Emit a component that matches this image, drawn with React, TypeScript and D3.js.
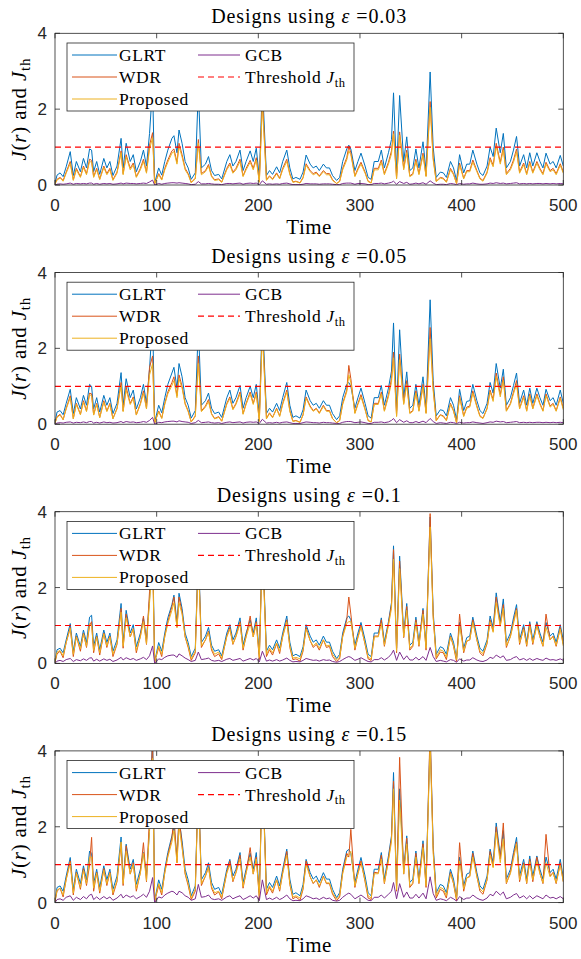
import React from "react";
import * as d3 from "d3";

// shared time samples (read at the local peaks / troughs of the traces)
const TIME = [
  0,2,5,8,11,15,18,21,25,28,
  31,34,36,38,41,44,48,51,54,57,
  61,65,67,70,74,77,80,84,87,90,
  93,96,98,102,105,108,111,115,117,120,
  122,125,128,131,134,138,141,144,148,151,
  154,157,161,164,169,172,175,178,182,185,
  188,192,195,198,201,204,208,211,214,218,
  221,224,228,231,234,237,241,244,247,251,
  254,257,260,264,267,270,273,277,280,283,
  287,289,291,295,298,301,305,308,311,314,
  318,321,324,328,331,333,336,339,343,346,
  349,352,355,358,362,365,369,372,375,379,
  382,385,389,392,395,398,402,405,408,411,
  415,418,421,425,428,431,434,438,441,444,
  448,451,454,457,461,464,467,470,474,477,
  480,483,487,490,493,497,500,
];

const EPSILONS = ["0.03", "0.05", "0.1", "0.15"];
const X_TICKS = [0, 100, 200, 300, 400, 500];
const Y_TICKS = [0, 2, 4];
const THRESHOLD = 1;

// ---- epsilon = 0.03
const GLRT_1 = [
  0.05,0.26,0.32,0.22,0.48,0.88,0.25,0.62,0.35,0.7,
  0.45,0.95,0.92,0.35,0.62,0.28,0.7,0.45,0.62,0.25,
  0.5,1.23,0.45,1.1,0.62,0.8,0.35,0.62,0.92,0.5,
  1.36,2.6,0.05,0.45,0.26,0.62,0.92,1.23,1.3,0.85,
  1.45,1.1,0.62,0.45,0.15,0.32,2.5,0.45,0.55,0.75,
  0.38,0.25,0.28,0.16,0.62,0.8,0.5,0.62,0.92,0.38,
  0.62,0.9,0.62,0.97,0.2,2.7,0.25,0.38,0.28,0.48,
  0.32,0.62,0.92,0.45,0.16,0.2,0.15,0.34,0.79,0.55,
  0.45,0.5,0.38,0.55,0.45,0.45,0.25,0.12,0.2,0.62,
  0.95,1.05,0.95,0.38,0.62,0.84,0.5,0.2,0.15,0.62,
  0.62,0.92,0.45,0.85,1.2,2.43,0.32,2.36,0.62,1.27,
  0.38,0.45,0.95,0.45,1.14,0.38,2.98,1.0,0.2,0.34,
  0.32,0.2,0.62,0.45,0.12,0.8,0.32,0.55,0.55,0.92,
  0.55,0.32,0.25,0.5,1.0,0.75,1.5,0.85,1.36,0.45,
  0.62,0.92,1.28,0.5,0.8,0.45,0.85,0.5,0.85,0.62,
  0.45,0.84,0.55,0.62,0.45,0.78,0.5,
];
const WDR_1 = [
  0.03,0.15,0.2,0.12,0.34,0.62,0.14,0.44,0.22,0.5,
  0.3,0.68,0.65,0.22,0.44,0.16,0.5,0.3,0.44,0.14,
  0.34,0.9,0.3,0.8,0.44,0.58,0.22,0.44,0.68,0.34,
  1.05,1.38,0.03,0.3,0.15,0.44,0.66,0.9,0.95,0.6,
  1.1,0.8,0.44,0.3,0.07,0.18,1.2,0.3,0.38,0.54,
  0.24,0.14,0.16,0.08,0.44,0.58,0.34,0.44,0.68,0.24,
  0.44,0.65,0.44,0.72,0.08,2.3,0.14,0.24,0.16,0.32,
  0.18,0.44,0.68,0.3,0.08,0.1,0.06,0.2,0.56,0.38,
  0.3,0.34,0.24,0.38,0.3,0.3,0.14,0.04,0.1,0.44,
  0.72,1.02,0.85,0.24,0.44,0.6,0.34,0.1,0.06,0.44,
  0.44,0.66,0.3,0.6,0.9,1.42,0.18,1.4,0.44,0.92,
  0.24,0.3,0.68,0.3,0.84,0.24,2.2,0.72,0.1,0.2,
  0.18,0.08,0.44,0.3,0.04,0.58,0.18,0.38,0.38,0.66,
  0.38,0.18,0.12,0.34,0.72,0.52,1.1,0.6,1.0,0.3,
  0.44,0.66,0.95,0.34,0.58,0.3,0.62,0.34,0.62,0.44,
  0.3,0.6,0.38,0.44,0.3,0.56,0.34,
];
const PROP_1 = [
  0.03,0.13,0.18,0.1,0.31,0.57,0.12,0.4,0.2,0.46,
  0.27,0.62,0.6,0.2,0.4,0.14,0.46,0.27,0.4,0.12,
  0.31,0.85,0.27,0.74,0.4,0.53,0.2,0.4,0.62,0.31,
  0.95,1.25,0.03,0.27,0.13,0.4,0.6,0.84,0.88,0.55,
  1.02,0.74,0.4,0.27,0.06,0.16,1.1,0.27,0.35,0.5,
  0.22,0.12,0.14,0.07,0.4,0.53,0.31,0.4,0.62,0.22,
  0.4,0.6,0.4,0.66,0.07,2.1,0.12,0.22,0.14,0.29,
  0.16,0.4,0.62,0.27,0.07,0.09,0.05,0.18,0.52,0.35,
  0.27,0.31,0.22,0.35,0.27,0.27,0.12,0.04,0.09,0.4,
  0.66,0.9,0.8,0.22,0.4,0.55,0.31,0.09,0.05,0.4,
  0.4,0.6,0.27,0.55,0.82,1.35,0.16,1.32,0.4,0.85,
  0.22,0.27,0.62,0.27,0.78,0.22,2.05,0.66,0.09,0.18,
  0.16,0.07,0.4,0.27,0.04,0.53,0.16,0.35,0.35,0.6,
  0.35,0.16,0.1,0.31,0.66,0.48,1.02,0.55,0.92,0.27,
  0.4,0.6,0.88,0.31,0.53,0.27,0.57,0.31,0.57,0.4,
  0.27,0.55,0.35,0.4,0.27,0.52,0.31,
];
const GCB_1 = [
  0,0.02,0.03,0.02,0.03,0.05,0.02,0.04,0.03,0.04,
  0.03,0.05,0.05,0.02,0.04,0.02,0.04,0.03,0.04,0.02,
  0.03,0.05,0.03,0.05,0.04,0.04,0.03,0.04,0.05,0.04,
  0.08,0.13,0,0.04,0.02,0.04,0.05,0.06,0.06,0.05,
  0.06,0.05,0.04,0.03,0.01,0.02,0.09,0.03,0.03,0.04,
  0.03,0.02,0.02,0.01,0.04,0.04,0.03,0.04,0.05,0.02,
  0.04,0.05,0.04,0.05,0.01,0.11,0.02,0.03,0.02,0.03,
  0.02,0.04,0.05,0.03,0.01,0.01,0.01,0.02,0.04,0.03,
  0.03,0.03,0.02,0.03,0.03,0.03,0.02,0.01,0.01,0.04,
  0.05,0.05,0.05,0.02,0.04,0.04,0.03,0.01,0.01,0.04,
  0.04,0.05,0.03,0.05,0.07,0.1,0.02,0.09,0.04,0.07,
  0.02,0.03,0.05,0.03,0.06,0.02,0.11,0.05,0.01,0.02,
  0.02,0.01,0.04,0.03,0.01,0.04,0.02,0.03,0.03,0.05,
  0.03,0.02,0.02,0.03,0.05,0.04,0.06,0.04,0.05,0.03,
  0.04,0.05,0.06,0.03,0.04,0.03,0.04,0.03,0.04,0.04,
  0.03,0.04,0.03,0.04,0.03,0.04,0.03,
];

// ---- epsilon = 0.05
const GLRT_2 = [
  0.05,0.32,0.36,0.25,0.55,0.92,0.28,0.7,0.4,0.76,
  0.5,1.05,1.0,0.4,0.7,0.32,0.76,0.5,0.7,0.28,
  0.55,1.36,0.5,1.2,0.7,0.9,0.4,0.7,1.05,0.55,
  1.45,2.8,0.05,0.5,0.3,0.7,1.05,1.35,1.5,0.95,
  1.6,1.25,0.7,0.5,0.16,0.36,2.6,0.5,0.62,0.82,
  0.42,0.28,0.32,0.18,0.7,0.9,0.55,0.7,1.02,0.42,
  0.7,1.0,0.7,1.05,0.22,2.9,0.28,0.42,0.32,0.55,
  0.36,0.7,1.1,0.5,0.18,0.22,0.16,0.38,0.9,0.62,
  0.5,0.55,0.42,0.62,0.5,0.5,0.28,0.12,0.22,0.7,
  1.05,1.1,1.0,0.42,0.7,0.95,0.55,0.22,0.16,0.7,
  0.7,1.02,0.5,0.95,1.4,2.67,0.36,2.49,0.7,1.38,
  0.42,0.5,1.05,0.5,1.25,0.42,3.28,1.15,0.22,0.38,
  0.36,0.22,0.7,0.5,0.12,0.92,0.36,0.6,0.62,1.05,
  0.62,0.36,0.28,0.55,1.1,0.82,1.6,0.95,1.45,0.5,
  0.7,1.02,1.35,0.55,0.9,0.5,0.95,0.55,0.95,0.7,
  0.5,0.92,0.62,0.7,0.5,0.9,0.55,
];
const WDR_2 = [
  0.03,0.2,0.26,0.12,0.42,0.75,0.15,0.55,0.26,0.62,
  0.35,0.82,0.8,0.25,0.55,0.18,0.62,0.35,0.55,0.15,
  0.42,1.1,0.35,0.98,0.55,0.72,0.25,0.55,0.88,0.42,
  1.5,1.8,0.03,0.35,0.16,0.55,0.85,1.1,1.25,0.75,
  1.3,1.0,0.55,0.35,0.06,0.22,1.8,0.35,0.48,0.65,
  0.28,0.15,0.2,0.08,0.55,0.72,0.4,0.55,0.85,0.28,
  0.55,0.85,0.55,0.85,0.08,2.6,0.15,0.3,0.18,0.42,
  0.22,0.55,0.9,0.36,0.08,0.1,0.05,0.25,0.72,0.48,
  0.36,0.42,0.3,0.5,0.36,0.36,0.15,0.04,0.1,0.55,
  0.9,1.55,1.2,0.3,0.55,0.78,0.4,0.1,0.06,0.55,
  0.55,0.85,0.36,0.78,1.2,1.9,0.22,1.85,0.55,1.15,
  0.3,0.36,0.88,0.36,1.05,0.3,2.55,0.95,0.1,0.25,
  0.22,0.1,0.55,0.36,0.04,0.75,0.22,0.45,0.48,0.88,
  0.48,0.22,0.16,0.42,0.9,0.65,1.35,0.78,1.25,0.36,
  0.55,0.85,1.15,0.42,0.75,0.36,0.8,0.42,0.8,0.55,
  0.36,0.8,0.48,0.55,0.36,0.72,0.42,
];
const PROP_2 = [
  0.03,0.18,0.24,0.12,0.4,0.7,0.14,0.52,0.25,0.58,
  0.33,0.78,0.75,0.24,0.52,0.17,0.58,0.33,0.52,0.14,
  0.4,1.02,0.33,0.9,0.52,0.68,0.24,0.52,0.82,0.4,
  1.3,1.6,0.03,0.33,0.15,0.52,0.8,1.02,1.15,0.7,
  1.2,0.95,0.52,0.33,0.06,0.2,1.6,0.33,0.45,0.6,
  0.26,0.14,0.18,0.08,0.52,0.68,0.38,0.52,0.8,0.26,
  0.52,0.8,0.52,0.8,0.07,2.4,0.14,0.28,0.17,0.4,
  0.2,0.52,0.85,0.34,0.07,0.09,0.05,0.24,0.68,0.45,
  0.34,0.4,0.28,0.47,0.34,0.34,0.14,0.04,0.09,0.52,
  0.85,1.3,1.1,0.28,0.52,0.72,0.38,0.09,0.06,0.52,
  0.52,0.8,0.34,0.72,1.1,1.75,0.2,1.7,0.52,1.05,
  0.28,0.34,0.82,0.34,0.98,0.28,2.25,0.88,0.09,0.24,
  0.2,0.09,0.52,0.34,0.04,0.7,0.2,0.42,0.45,0.82,
  0.45,0.2,0.15,0.4,0.85,0.6,1.25,0.72,1.15,0.34,
  0.52,0.8,1.05,0.4,0.7,0.34,0.75,0.4,0.75,0.52,
  0.34,0.75,0.45,0.52,0.34,0.68,0.38,
];
const GCB_2 = [
  0,0.03,0.04,0.03,0.05,0.06,0.03,0.05,0.04,0.06,
  0.04,0.07,0.07,0.03,0.05,0.03,0.06,0.04,0.05,0.03,
  0.04,0.07,0.04,0.07,0.05,0.06,0.04,0.05,0.07,0.05,
  0.1,0.18,0,0.05,0.04,0.06,0.07,0.08,0.08,0.06,
  0.09,0.07,0.06,0.05,0.02,0.04,0.1,0.04,0.05,0.06,
  0.04,0.03,0.04,0.02,0.05,0.06,0.04,0.05,0.06,0.03,
  0.05,0.06,0.05,0.06,0.02,0.13,0.03,0.04,0.03,0.05,
  0.03,0.05,0.06,0.04,0.02,0.02,0.02,0.04,0.06,0.05,
  0.04,0.04,0.03,0.05,0.04,0.04,0.03,0.02,0.02,0.05,
  0.07,0.07,0.07,0.04,0.05,0.06,0.04,0.02,0.02,0.05,
  0.05,0.06,0.04,0.06,0.1,0.15,0.04,0.12,0.05,0.09,
  0.04,0.04,0.07,0.04,0.08,0.04,0.15,0.07,0.02,0.04,
  0.03,0.02,0.05,0.04,0.02,0.05,0.03,0.04,0.04,0.06,
  0.04,0.03,0.02,0.04,0.06,0.05,0.08,0.06,0.07,0.04,
  0.05,0.06,0.07,0.04,0.05,0.04,0.05,0.04,0.05,0.05,
  0.04,0.05,0.04,0.05,0.04,0.05,0.04,
];

// ---- epsilon = 0.1
const GLRT_3 = [
  0.05,0.36,0.4,0.28,0.62,1.05,0.32,0.8,0.45,0.88,
  0.55,1.22,1.27,0.45,0.8,0.36,0.88,0.55,0.8,0.32,
  0.62,1.58,0.55,1.4,0.8,1.02,0.44,0.8,1.2,0.62,
  1.7,3.2,0.05,0.55,0.32,0.8,1.2,1.55,1.8,1.08,
  1.85,1.45,0.8,0.55,0.18,0.4,3.0,0.55,0.72,0.95,
  0.48,0.32,0.36,0.2,0.8,1.02,0.62,0.8,1.2,0.48,
  0.8,1.15,0.8,1.2,0.24,3.3,0.32,0.48,0.36,0.62,
  0.4,0.8,1.25,0.56,0.2,0.24,0.18,0.44,1.02,0.72,
  0.56,0.62,0.48,0.72,0.56,0.56,0.32,0.13,0.24,0.8,
  1.2,1.25,1.15,0.48,0.8,1.08,0.62,0.24,0.18,0.8,
  0.8,1.2,0.56,1.1,1.6,3.1,0.4,2.83,0.8,1.58,
  0.48,0.56,1.22,0.56,1.45,0.48,3.86,1.35,0.24,0.44,
  0.4,0.24,0.8,0.56,0.13,1.08,0.4,0.68,0.72,1.22,
  0.72,0.4,0.32,0.62,1.25,0.95,1.86,1.1,1.7,0.56,
  0.8,1.2,1.55,0.62,1.02,0.56,1.1,0.62,1.1,0.8,
  0.56,1.08,0.72,0.8,0.56,1.02,0.6,
];
const WDR_3 = [
  0.03,0.25,0.32,0.15,0.55,0.95,0.18,0.72,0.32,0.8,
  0.42,1.0,1.1,0.28,0.72,0.22,0.8,0.42,0.72,0.18,
  0.5,1.45,0.4,1.3,0.7,0.92,0.28,0.72,1.25,0.5,
  1.9,2.9,0.03,0.42,0.18,0.72,1.1,1.5,1.75,0.95,
  1.75,1.35,0.7,0.42,0.08,0.28,2.9,0.42,0.62,0.85,
  0.35,0.18,0.25,0.1,0.72,0.95,0.5,0.72,1.1,0.35,
  0.72,1.25,0.7,1.1,0.1,3.2,0.18,0.36,0.22,0.52,
  0.26,0.72,1.15,0.42,0.1,0.12,0.06,0.32,0.95,0.6,
  0.42,0.5,0.35,0.62,0.42,0.45,0.18,0.05,0.12,0.72,
  1.15,1.75,1.3,0.35,0.7,1.0,0.5,0.12,0.08,0.72,
  0.72,1.15,0.45,1.05,1.55,3.0,0.28,2.7,0.68,1.5,
  0.35,0.45,1.15,0.45,1.4,0.35,3.95,1.25,0.12,0.3,
  0.28,0.1,0.72,0.45,0.05,1.3,0.28,0.58,0.62,1.15,
  0.62,0.28,0.2,0.52,1.15,0.85,1.75,1.0,1.55,0.42,
  0.72,1.1,1.45,0.5,0.95,0.45,1.05,0.5,1.05,0.7,
  0.45,1.3,0.62,0.72,0.45,0.95,0.5,
];
const PROP_3 = [
  0.03,0.3,0.34,0.2,0.55,0.92,0.24,0.7,0.38,0.78,
  0.45,1.05,1.0,0.34,0.7,0.28,0.78,0.46,0.7,0.24,
  0.52,1.35,0.45,1.2,0.7,0.9,0.34,0.7,1.1,0.52,
  1.6,2.7,0.03,0.46,0.24,0.7,1.05,1.4,1.6,0.95,
  1.6,1.3,0.7,0.46,0.12,0.32,2.7,0.46,0.62,0.82,
  0.4,0.24,0.3,0.14,0.7,0.9,0.52,0.7,1.05,0.4,
  0.7,1.05,0.7,1.05,0.16,3.0,0.24,0.4,0.28,0.54,
  0.32,0.7,1.1,0.46,0.14,0.16,0.12,0.36,0.9,0.6,
  0.46,0.54,0.4,0.62,0.46,0.48,0.24,0.1,0.16,0.7,
  1.05,1.1,1.1,0.4,0.68,0.95,0.52,0.16,0.12,0.7,
  0.7,1.05,0.48,1.0,1.45,2.75,0.32,2.5,0.7,1.4,
  0.4,0.48,1.08,0.48,1.3,0.4,3.6,1.2,0.16,0.36,
  0.32,0.16,0.7,0.48,0.1,1.0,0.32,0.6,0.62,1.08,
  0.62,0.32,0.26,0.54,1.1,0.82,1.6,0.98,1.45,0.46,
  0.7,1.05,1.4,0.54,0.9,0.48,0.98,0.54,0.98,0.7,
  0.46,0.95,0.62,0.7,0.48,0.9,0.46,
];
const GCB_3 = [
  0,0.06,0.08,0.05,0.1,0.13,0.05,0.1,0.07,0.12,
  0.08,0.14,0.15,0.06,0.11,0.06,0.12,0.08,0.11,0.05,
  0.09,0.16,0.09,0.15,0.1,0.13,0.08,0.12,0.16,0.1,
  0.2,0.46,0,0.12,0.1,0.16,0.2,0.22,0.22,0.16,
  0.25,0.2,0.14,0.1,0.05,0.08,0.3,0.1,0.12,0.14,
  0.08,0.06,0.08,0.05,0.11,0.13,0.08,0.1,0.13,0.06,
  0.09,0.13,0.09,0.13,0.04,0.32,0.06,0.09,0.06,0.1,
  0.06,0.09,0.14,0.08,0.04,0.05,0.04,0.08,0.13,0.1,
  0.08,0.09,0.06,0.1,0.08,0.09,0.05,0.03,0.05,0.1,
  0.16,0.18,0.16,0.08,0.11,0.15,0.09,0.05,0.04,0.1,
  0.1,0.15,0.09,0.16,0.25,0.35,0.08,0.3,0.1,0.2,
  0.09,0.09,0.16,0.09,0.18,0.08,0.42,0.18,0.05,0.08,
  0.06,0.04,0.1,0.08,0.03,0.12,0.06,0.09,0.09,0.15,
  0.09,0.06,0.05,0.09,0.16,0.13,0.22,0.15,0.2,0.08,
  0.1,0.15,0.18,0.09,0.13,0.08,0.13,0.08,0.13,0.1,
  0.08,0.14,0.09,0.1,0.08,0.12,0.08,
];

// ---- epsilon = 0.15
const GLRT_4 = [
  0.05,0.4,0.44,0.3,0.7,1.19,0.35,0.88,0.5,0.97,
  0.6,1.36,1.3,0.5,0.88,0.4,0.97,0.6,0.88,0.35,
  0.7,1.73,0.6,1.54,0.88,1.14,0.48,0.88,1.32,0.7,
  1.93,4.5,0.05,0.6,0.35,0.88,1.32,1.76,2.0,1.2,
  2.2,1.63,0.88,0.6,0.18,0.44,3.2,0.6,0.79,1.05,
  0.53,0.35,0.4,0.22,0.88,1.14,0.7,0.88,1.32,0.53,
  0.88,1.3,0.88,1.32,0.26,3.6,0.35,0.53,0.4,0.7,
  0.44,0.88,1.41,0.62,0.22,0.26,0.18,0.48,1.14,0.79,
  0.62,0.7,0.53,0.79,0.62,0.62,0.35,0.13,0.26,0.88,
  1.36,1.4,1.3,0.53,0.88,1.19,0.7,0.26,0.18,0.88,
  0.88,1.32,0.62,1.23,1.76,3.43,0.44,3.0,0.88,1.76,
  0.53,0.62,1.36,0.62,1.63,0.53,4.4,1.5,0.26,0.48,
  0.44,0.26,0.88,0.62,0.13,1.2,0.44,0.75,0.79,1.36,
  0.79,0.44,0.35,0.7,1.41,1.05,2.1,1.23,1.9,0.62,
  0.88,1.32,1.72,0.7,1.14,0.62,1.23,0.7,1.23,0.88,
  0.62,1.2,0.79,0.88,0.62,1.14,0.65,
];
const WDR_4 = [
  0.03,0.3,0.38,0.15,0.62,1.1,0.2,0.8,0.35,0.9,
  0.45,1.0,1.72,0.3,0.8,0.25,0.9,0.45,0.8,0.2,
  0.55,1.55,0.45,1.5,0.75,1.05,0.3,0.8,1.58,0.55,
  2.3,4.3,0.03,0.45,0.2,0.8,1.25,1.7,2.3,1.05,
  2.3,1.5,0.75,0.45,0.08,0.3,3.3,0.45,0.7,0.95,
  0.38,0.2,0.28,0.1,0.8,1.1,0.55,0.8,1.25,0.38,
  0.8,1.45,0.75,1.2,0.1,3.7,0.2,0.4,0.25,0.6,
  0.3,0.8,1.35,0.48,0.1,0.15,0.06,0.35,1.1,0.68,
  0.5,0.6,0.4,0.7,0.5,0.5,0.22,0.05,0.15,0.8,
  1.3,1.2,1.93,0.4,0.78,1.1,0.55,0.12,0.08,0.8,
  0.78,1.25,0.5,1.15,1.7,3.2,0.3,3.83,0.75,1.7,
  0.4,0.5,1.3,0.5,1.55,0.4,4.6,1.4,0.12,0.35,
  0.3,0.12,0.8,0.5,0.05,1.58,0.3,0.65,0.7,1.3,
  0.7,0.3,0.22,0.6,1.35,0.95,2.0,1.15,2.1,0.5,
  0.8,1.25,1.6,0.55,1.05,0.5,1.15,0.55,1.2,0.78,
  0.5,1.8,0.7,0.8,0.5,1.05,0.55,
];
const PROP_4 = [
  0.03,0.33,0.38,0.2,0.6,1.05,0.25,0.78,0.4,0.85,
  0.5,1.2,1.2,0.38,0.78,0.3,0.85,0.5,0.78,0.26,
  0.58,1.6,0.5,1.35,0.76,1.0,0.36,0.78,1.3,0.58,
  1.9,3.8,0.03,0.5,0.26,0.78,1.2,1.6,1.9,1.05,
  2.0,1.45,0.78,0.5,0.12,0.35,3.0,0.5,0.7,0.92,
  0.42,0.26,0.3,0.15,0.78,1.0,0.58,0.78,1.15,0.42,
  0.78,1.2,0.76,1.15,0.18,3.4,0.26,0.44,0.3,0.6,
  0.34,0.76,1.25,0.5,0.15,0.18,0.12,0.38,1.0,0.68,
  0.52,0.6,0.44,0.68,0.52,0.52,0.26,0.1,0.18,0.76,
  1.2,1.25,1.35,0.44,0.76,1.05,0.58,0.18,0.12,0.76,
  0.76,1.15,0.52,1.1,1.6,3.0,0.34,2.7,0.76,1.55,
  0.44,0.52,1.2,0.52,1.45,0.44,4.2,1.3,0.18,0.4,
  0.36,0.18,0.76,0.52,0.1,1.1,0.36,0.65,0.68,1.2,
  0.68,0.36,0.28,0.6,1.25,0.92,1.85,1.05,1.68,0.52,
  0.76,1.15,1.55,0.6,1.0,0.52,1.08,0.6,1.08,0.76,
  0.52,1.05,0.68,0.78,0.52,1.0,0.55,
];
const GCB_4 = [
  0,0.08,0.1,0.06,0.14,0.18,0.06,0.14,0.08,0.16,
  0.1,0.2,0.22,0.08,0.15,0.08,0.16,0.1,0.15,0.06,
  0.12,0.22,0.12,0.2,0.14,0.18,0.1,0.16,0.22,0.14,
  0.3,0.66,0,0.15,0.12,0.2,0.25,0.3,0.28,0.2,
  0.3,0.26,0.18,0.14,0.06,0.1,0.48,0.14,0.16,0.2,
  0.1,0.08,0.1,0.06,0.15,0.18,0.1,0.14,0.18,0.08,
  0.12,0.18,0.12,0.18,0.05,0.6,0.08,0.12,0.08,0.14,
  0.08,0.12,0.2,0.1,0.05,0.06,0.05,0.1,0.18,0.14,
  0.1,0.12,0.08,0.14,0.1,0.12,0.06,0.04,0.06,0.14,
  0.22,0.25,0.22,0.1,0.15,0.2,0.12,0.06,0.05,0.14,
  0.14,0.2,0.12,0.22,0.3,0.53,0.1,0.5,0.14,0.28,
  0.12,0.12,0.22,0.12,0.25,0.1,0.68,0.24,0.06,0.1,
  0.08,0.05,0.14,0.1,0.04,0.16,0.08,0.12,0.12,0.2,
  0.12,0.08,0.06,0.12,0.22,0.18,0.3,0.2,0.28,0.1,
  0.14,0.2,0.24,0.12,0.18,0.1,0.18,0.1,0.18,0.14,
  0.1,0.2,0.12,0.14,0.1,0.16,0.1,
];

const PANELS = [
  { eps: EPSILONS[0], glrt: GLRT_1, wdr: WDR_1, prop: PROP_1, gcb: GCB_1 },
  { eps: EPSILONS[1], glrt: GLRT_2, wdr: WDR_2, prop: PROP_2, gcb: GCB_2 },
  { eps: EPSILONS[2], glrt: GLRT_3, wdr: WDR_3, prop: PROP_3, gcb: GCB_3 },
  { eps: EPSILONS[3], glrt: GLRT_4, wdr: WDR_4, prop: PROP_4, gcb: GCB_4 },
];

const C_GLRT = "#0072BD";
const C_WDR = "#D95319";
const C_PROP = "#EDB120";
const C_GCB = "#7E2F8E";
const C_THR = "#FF0000";
const AX = "#262626";

const SERIF = "'Liberation Serif', 'Times New Roman', serif";
const SANS = "'Liberation Sans', Arial, sans-serif";

const W = 581;
const H = 959;
const LEFT = 55;
const RIGHT = 563.3;
const TOP0 = 33.3;
const STEP = 239.2;
const PH = 151.7;

function Panel({ k, p }: { k: number; p: any }) {
  const top = TOP0 + k * STEP;
  const bottom = top + PH;
  const x = d3.scaleLinear().domain([0, 500]).range([LEFT, RIGHT]);
  const y = d3.scaleLinear().domain([0, 4]).range([bottom, top]);
  const mk = (vals: number[]) => {
    const n = Math.min(vals.length, TIME.length);
    const pts: [number, number][] = [];
    for (let i = 0; i < n; i++) pts.push([TIME[i], vals[i]]);
    return d3
      .line<[number, number]>()
      .x((d) => x(d[0]))
      .y((d) => y(d[1]))(pts) as string;
  };
  const clipId = `clipPanel${k}`;
  const midX = (LEFT + RIGHT) / 2;
  const midY = (top + bottom) / 2;
  const lx = 67;
  const ly = top + 9.7;
  const rows = [top + 21.7, top + 43.7, top + 65.7];
  const legFont = 17.5;
  return (
    <g>
      <defs>
        <clipPath id={clipId}>
          <rect x={LEFT} y={top} width={RIGHT - LEFT} height={PH} />
        </clipPath>
      </defs>
      <rect x={LEFT} y={top} width={RIGHT - LEFT} height={PH} fill="#fff" />
      <g clipPath={`url(#${clipId})`} fill="none" strokeWidth={1} strokeLinejoin="round">
        <path d={mk(p.glrt)} stroke={C_GLRT} />
        <path d={mk(p.wdr)} stroke={C_WDR} />
        <path d={mk(p.prop)} stroke={C_PROP} />
        <path d={mk(p.gcb)} stroke={C_GCB} />
        <line x1={LEFT} x2={RIGHT} y1={y(THRESHOLD)} y2={y(THRESHOLD)} stroke={C_THR} strokeWidth={1.2} strokeDasharray="6,4" />
      </g>
      <rect x={LEFT} y={top} width={RIGHT - LEFT} height={PH} fill="none" stroke={AX} strokeWidth={0.8} />
      {X_TICKS.map((t) => (
        <g key={`x${t}`}>
          <line x1={x(t)} x2={x(t)} y1={bottom} y2={bottom - 5} stroke={AX} strokeWidth={0.8} />
          <line x1={x(t)} x2={x(t)} y1={top} y2={top + 5} stroke={AX} strokeWidth={0.8} />
          <text x={x(t)} y={bottom + 26} textAnchor="middle" fontFamily={SANS} fontSize={17} fill={AX}>
            {t}
          </text>
        </g>
      ))}
      {Y_TICKS.map((t) => (
        <g key={`y${t}`}>
          <line x1={LEFT} x2={LEFT + 5} y1={y(t)} y2={y(t)} stroke={AX} strokeWidth={0.8} />
          <line x1={RIGHT} x2={RIGHT - 5} y1={y(t)} y2={y(t)} stroke={AX} strokeWidth={0.8} />
          <text x={LEFT - 8} y={y(t) + 6} textAnchor="end" fontFamily={SANS} fontSize={17} fill={AX}>
            {t}
          </text>
        </g>
      ))}
      <text x={midX} y={top - 10} textAnchor="middle" fontFamily={SERIF} fontSize={20} letterSpacing={0.9} fill="#000">
        Designs using <tspan fontStyle="italic">ε</tspan> ={p.eps}
      </text>
      <text x={midX} y={bottom + 49} textAnchor="middle" fontFamily={SERIF} fontSize={21} letterSpacing={0.5} fill="#000">
        Time
      </text>
      <text transform={`translate(26, ${midY}) rotate(-90)`} textAnchor="middle" fontFamily={SERIF} fontSize={21} letterSpacing={0.8} fill="#000">
        <tspan fontStyle="italic">J</tspan>(<tspan fontStyle="italic">r</tspan>) and <tspan fontStyle="italic">J</tspan>
        <tspan fontSize={15} dy={4}>th</tspan>
      </text>
      <rect x={lx} y={ly} width={354 - lx} height={68} fill="#fff" stroke={AX} strokeWidth={0.8} />
      <line x1={72} x2={117} y1={rows[0]} y2={rows[0]} stroke={C_GLRT} strokeWidth={1} />
      <text x={119} y={rows[0] + 6} fontFamily={SERIF} fontSize={legFont} letterSpacing={0.6}>GLRT</text>
      <line x1={72} x2={117} y1={rows[1]} y2={rows[1]} stroke={C_WDR} strokeWidth={1} />
      <text x={119} y={rows[1] + 6} fontFamily={SERIF} fontSize={legFont} letterSpacing={0.6}>WDR</text>
      <line x1={72} x2={117} y1={rows[2]} y2={rows[2]} stroke={C_PROP} strokeWidth={1} />
      <text x={119} y={rows[2] + 6} fontFamily={SERIF} fontSize={legFont} letterSpacing={0.6}>Proposed</text>
      <line x1={198} x2={240} y1={rows[0]} y2={rows[0]} stroke={C_GCB} strokeWidth={1} />
      <text x={245} y={rows[0] + 6} fontFamily={SERIF} fontSize={legFont} letterSpacing={0.6}>GCB</text>
      <line x1={198} x2={240} y1={rows[1]} y2={rows[1]} stroke={C_THR} strokeWidth={1.2} strokeDasharray="6,4" />
      <text x={245} y={rows[1] + 6} fontFamily={SERIF} fontSize={legFont} letterSpacing={0.6}>
        Threshold <tspan fontStyle="italic">J</tspan>
        <tspan fontSize={12.5} dy={3.5}>th</tspan>
      </text>
    </g>
  );
}

export default function App() {
  return (
    <div style={{ position: "absolute", left: 0, top: 0, width: W, height: H, background: "#fff" }}>
      <svg width={W} height={H} viewBox={`0 0 ${W} ${H}`} style={{ display: "block" }}>
        <rect width={W} height={H} fill="#fff" />
        {PANELS.map((p, k) => (
          <Panel key={k} k={k} p={p} />
        ))}
      </svg>
    </div>
  );
}
